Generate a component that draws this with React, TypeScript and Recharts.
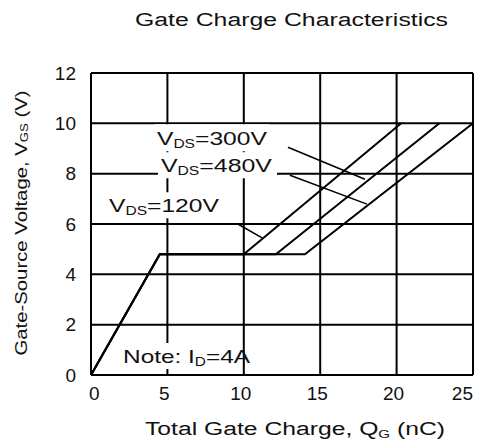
import React from 'react';
import {
  ComposedChart,
  Line,
  XAxis,
  YAxis,
  CartesianGrid,
  ReferenceArea,
  ReferenceLine,
  Label,
} from 'recharts';

const FONT = '"Liberation Sans", Arial, Helvetica, sans-serif';
const INK = '#111';

// Curves: Total gate charge Qg (nC) vs gate-source voltage Vgs (V)
const vds120 = [
  { q: 0, v: 0 },
  { q: 4.5, v: 4.8 },
  { q: 10.0, v: 4.8 },
  { q: 20.3, v: 10 },
];
const vds300 = [
  { q: 0, v: 0 },
  { q: 4.5, v: 4.8 },
  { q: 12.1, v: 4.8 },
  { q: 22.8, v: 10 },
];
const vds480 = [
  { q: 0, v: 0 },
  { q: 4.5, v: 4.8 },
  { q: 14.0, v: 4.8 },
  { q: 25.0, v: 10 },
];

const xTicks = [0, 5, 10, 15, 20, 25];
const yTicks = [0, 2, 4, 6, 8, 10, 12];

// Annotation label boxes (data coordinates) and their texts
const annotations = [
  { x1: 4.12, x2: 11.71, y1: 8.89, y2: 9.96, main: 'V', sub: 'DS', rest: '=300V', len: 110 },
  { x1: 4.38, x2: 12.17, y1: 7.82, y2: 8.85, main: 'V', sub: 'DS', rest: '=480V', len: 111 },
  { x1: 0.98, x2: 8.7, y1: 6.23, y2: 7.26, main: 'V', sub: 'DS', rest: '=120V', len: 110 },
  { x1: 1.9, x2: 9.49, y1: 0.24, y2: 1.27, main: 'Note: I', sub: 'D', rest: '=4A', len: 127 },
];

// Leader lines from labels to curves (data coordinates)
const leaders = [
  [{ x: 12.89, y: 9.05 }, { x: 17.93, y: 7.78 }],
  [{ x: 13.02, y: 7.94 }, { x: 18.06, y: 6.79 }],
  [{ x: 9.55, y: 6.02 }, { x: 11.2, y: 5.45 }],
];

const W = 479;
const H = 445;

function makeAnnoLabel(a: any) {
  return (props: any) => {
    const vb = props.viewBox || {};
    const x = vb.x + 3;
    const y = vb.y + vb.height - 6;
    return (
      <text
        x={x}
        y={y}
        fontSize={19}
        fontFamily={FONT}
        fill={INK}
        textLength={a.len}
        lengthAdjust="spacingAndGlyphs"
      >
        <tspan>{a.main}</tspan>
        <tspan fontSize={12} dy={3}>{a.sub}</tspan>
        <tspan dy={-3}>{a.rest}</tspan>
      </text>
    );
  };
}

const XTick = (props: any) => {
  const { x, y, payload, index } = props;
  const last = xTicks.length - 1;
  const anchor = index === 0 ? 'start' : index === last ? 'end' : 'middle';
  const dx = index === 0 ? -2 : index === last ? 0 : -3;
  return (
    <text
      x={x + dx}
      y={y}
      dy="0.71em"
      textAnchor={anchor}
      fontSize={19}
      fontFamily={FONT}
      fill={INK}
    >
      {payload.value}
    </text>
  );
};

const YLabel = (props: any) => {
  const vb = props.viewBox || {};
  const cx = vb.x - 10;
  const cy = vb.y + vb.height / 2 - 1;
  return (
    <text
      x={cx}
      y={cy}
      transform={`rotate(-90, ${cx}, ${cy})`}
      textAnchor="middle"
      dominantBaseline="central"
      fontSize={17}
      fontFamily={FONT}
      fill={INK}
      textLength={265}
      lengthAdjust="spacingAndGlyphs"
    >
      <tspan>Gate-Source Voltage, V</tspan>
      <tspan fontSize={11} dy={3}>GS</tspan>
      <tspan dy={-3}> (V)</tspan>
    </text>
  );
};

const XLabel = (props: any) => {
  const vb = props.viewBox || {};
  const cx = vb.x + vb.width / 2 + 13;
  const y = vb.y + 60;
  return (
    <text
      x={cx}
      y={y}
      textAnchor="middle"
      fontSize={18}
      fontFamily={FONT}
      fill={INK}
      textLength={300}
      lengthAdjust="spacingAndGlyphs"
    >
      <tspan>Total Gate Charge, Q</tspan>
      <tspan fontSize={11} dy={3}>G</tspan>
      <tspan dy={-3}> (nC)</tspan>
    </text>
  );
};

export default function App() {
  return (
    <div style={{ position: 'absolute', left: 0, top: 0, width: W, height: H, background: '#fff' }}>
      <svg
        width={W}
        height={40}
        style={{ position: 'absolute', left: 0, top: 0, pointerEvents: 'none' }}
      >
        <text
          x={291.5}
          y={26}
          textAnchor="middle"
          fontSize={18}
          fontFamily={FONT}
          fill={INK}
          textLength={313}
          lengthAdjust="spacingAndGlyphs"
        >
          Gate Charge Characteristics
        </text>
      </svg>
      <div style={{ position: 'absolute', left: 0, top: 0 }}>
        <ComposedChart
          width={W}
          height={H}
          margin={{ top: 73, right: 6, left: 31, bottom: 40 }}
        >
          <CartesianGrid stroke="#000" strokeWidth={2} />
          <XAxis
            type="number"
            dataKey="q"
            domain={[0, 25]}
            ticks={xTicks}
            interval={0}
            allowDataOverflow
            height={30}
            axisLine={{ stroke: '#000', strokeWidth: 2 }}
            tickLine={false}
            tickSize={0}
            tickMargin={12}
            tick={<XTick />}
          >
            <Label content={XLabel} />
          </XAxis>
          <YAxis
            type="number"
            domain={[0, 12]}
            ticks={yTicks}
            interval={0}
            allowDataOverflow
            width={60}
            axisLine={{ stroke: '#000', strokeWidth: 2 }}
            tickLine={false}
            tickSize={0}
            tickMargin={15}
            tick={{ fontSize: 19, fontFamily: FONT, fill: INK }}
          >
            <Label content={YLabel} />
          </YAxis>
          {annotations.map((a, i) => (
            <ReferenceArea
              key={'a' + i}
              x1={a.x1}
              x2={a.x2}
              y1={a.y1}
              y2={a.y2}
              fill="#fff"
              fillOpacity={1}
              stroke="none"
              label={makeAnnoLabel(a)}
            />
          ))}
          {leaders.map((seg, i) => (
            <ReferenceLine key={'l' + i} segment={seg} stroke="#000" strokeWidth={1.5} />
          ))}
          <Line
            data={vds120}
            dataKey="v"
            type="linear"
            stroke="#000"
            strokeWidth={2}
            dot={false}
            activeDot={false}
            isAnimationActive={false}
          />
          <Line
            data={vds300}
            dataKey="v"
            type="linear"
            stroke="#000"
            strokeWidth={2}
            dot={false}
            activeDot={false}
            isAnimationActive={false}
          />
          <Line
            data={vds480}
            dataKey="v"
            type="linear"
            stroke="#000"
            strokeWidth={2}
            dot={false}
            activeDot={false}
            isAnimationActive={false}
          />
        </ComposedChart>
      </div>
    </div>
  );
}
